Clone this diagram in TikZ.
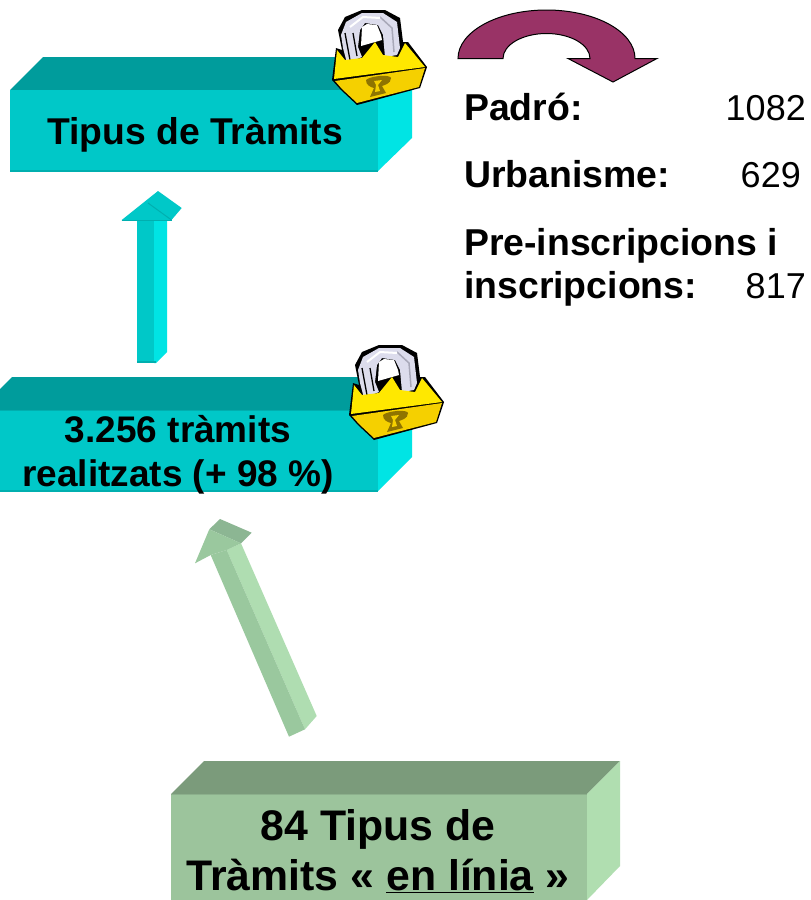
\documentclass[tikz,border=0pt]{standalone}
\usepackage{fontspec}
\setmainfont{Liberation Sans}
\definecolor{cfront}{HTML}{00C8C8}
\definecolor{ctop}{HTML}{009C9C}
\definecolor{cside}{HTML}{00E4E4}
\definecolor{cedge}{HTML}{00AFAF}
\definecolor{gfront}{HTML}{9CC49C}
\definecolor{gtop}{HTML}{7B9B7B}
\definecolor{gside}{HTML}{B0DEB0}
\definecolor{gedge}{HTML}{8CB08C}
\definecolor{afront}{HTML}{9AC89E}
\definecolor{aside}{HTML}{AFDDB1}
\definecolor{atop}{HTML}{8CB693}
\definecolor{maroon}{HTML}{993366}
\definecolor{lockY}{HTML}{FFE800}
\definecolor{lockD}{HTML}{F5D000}
\definecolor{lockK}{HTML}{8F7400}
\definecolor{lockS}{HTML}{DCDCEC}
\definecolor{lockG}{HTML}{A8A8B8}
\tikzset{
  boxlabel/.style={align=center,text=black,inner sep=0pt},
  infolabel/.style={font=\bfseries\fontsize{37.4}{43}\selectfont,anchor=base west,inner sep=0pt,align=left},
  infovalue/.style={font=\fontsize{36}{36}\selectfont,anchor=base east,inner sep=0pt},
  pics/padlock/.style={code={
    % black silhouette
    \fill[black] (12,80) -- (16,48) -- (22,50) -- (18,30) -- (25,17) -- (42,10) -- (65,10) -- (80,18) -- (83,42) -- (88,42) -- (107,67) -- (100,88) -- (37,105) -- (21,90) -- cycle;
    % shackle
    \fill[lockS] (21,35) -- (26,22) -- (42,13) -- (63,13) -- (77,22) -- (80,48) -- (77,55) -- (65,57) -- (63,35) -- (58,25) -- (45,23) -- (40,30) -- (38,47) -- (42,57) -- (27,63) -- (23,48) -- cycle;
    \draw[black,line width=1.3pt] (25,33) -- (30,60);
    \draw[black,line width=1.3pt] (33,33) -- (37,56);
    \draw[lockG,line width=1.5pt] (60,17) -- (72,28) -- (74,52);
    \draw[white,line width=2pt] (30,27) -- (43,17) -- (60,18);
    % opening
    \fill[white] (42,27) -- (47,24) -- (57,25) -- (61,35) -- (62,40) -- (41,46) -- cycle;
    % body, upper yellow face
    \fill[lockY] (17,50) -- (25,60) -- (42,58) -- (55,42) -- (63,55) -- (78,57) -- (85,43) -- (105,67) -- (14,79) -- cycle;
    % body, lower face
    \fill[lockD] (15,81) -- (105,68) -- (99,87) -- (37,103) -- (22,89) -- cycle;
    % keyhole
    \fill[lockK] (46,80) .. controls (50,76) and (70,74) .. (71,78) .. controls (71,84) and (64,85) .. (62,86) -- (66,93) -- (50,97) -- (54,88) .. controls (50,87) and (46,85) .. (46,80) -- cycle;
    \fill[lockD] (54,81) -- (62,80) -- (58,85) -- (60,91) -- (55,92) -- (56,85) -- cycle;
  }}
}
\begin{document}
\begin{tikzpicture}[x=1pt,y=-1pt]
\useasboundingbox (0,0) rectangle (811,900);
\clip (0,0) rectangle (811,900);
\fill[white] (0,0) rectangle (811,900);

% top box
\fill[ctop] (10,90) -- (43,57) -- (412,57) -- (378,90) -- cycle;
\fill[cside] (378,90) -- (412,57) -- (412,138) -- (378,171) -- cycle;
\fill[cfront] (10,90) rectangle (378,171);
\draw[cedge,line width=1.5pt] (10,171) -- (378,171);
\node[boxlabel,font=\bfseries\fontsize{37.3}{37}\selectfont] (tipus) at (195,135) {Tipus de Tràmits};

% middle box
\fill[ctop] (-21,410) -- (12,377) -- (412,377) -- (378,410) -- cycle;
\fill[cside] (378,410) -- (412,377) -- (412,457) -- (378,491) -- cycle;
\fill[cfront] (-21,410) rectangle (378,491);
\draw[cedge,line width=1.5pt] (-21,491) -- (378,491);
\draw[cedge,line width=1pt] (-21,410) -- (378,410);
\node[boxlabel,font=\bfseries\fontsize{37}{44}\selectfont] (tramits) at (178,455) {3.256 tràmits\\realitzats (+ 98 \%)};

% bottom box
\fill[gtop] (171,794) -- (204,761) -- (620,761) -- (587,794) -- cycle;
\fill[gside] (587,794) -- (620,761) -- (620,866) -- (587,900) -- cycle;
\fill[gfront] (171,794) rectangle (587,900);
\draw[gedge,line width=1pt] (171,794) -- (587,794);
\node[boxlabel,font=\bfseries\fontsize{42.8}{50}\selectfont] (linia) at (378,851) {84 Tipus de\\Tràmits « \underline{en línia} »};

% teal block arrow
\fill[cside] (154,219) -- (167,219) -- (167,352) -- (156,363) -- (154,363) -- cycle;
\fill[cfront] (137,219) rectangle (154,363);
\fill[cedge] (137,360.5) rectangle (156,363);
\fill[cfront] (121.7,220) -- (158,191) -- (181.7,208) -- (171.5,220) -- cycle;
\draw[cedge,line width=1pt] (121.7,220) -- (171.5,220);
\draw[cedge,line width=1pt] (148,203) -- (171.5,220);

% green block arrow
\fill[aside] (226.7,550) -- (241,543.3) -- (316.7,716) -- (305,729.3) -- cycle;
\fill[afront] (210.7,555) -- (226.7,550) -- (305,729.3) -- (289,736.7) -- cycle;
\fill[atop] (209.3,529.3) -- (220,519) -- (251.7,532.7) -- (241,543.3) -- cycle;
\fill[afront] (195,563.3) -- (209.3,529.3) -- (241,543.3) -- (226.7,550) -- (210.7,555) -- cycle;

% curved arrow
\draw[fill=maroon,draw=black,line width=1pt,line join=miter]
  (458,58.5) arc[start angle=180,end angle=360,x radius=88.5,y radius=48.5]
  -- (657,58.5) -- (613,82) -- (568,58.5) -- (590,58.5)
  arc[start angle=360,end angle=180,x radius=43.5,y radius=25] -- cycle;

% padlocks
\pic at (320,0) {padlock};
\pic at (337,335) {padlock};

% info text
\node[infolabel] (padro) at (464,120) {Padró:};
\node[infovalue] (v1) at (806,120) {1082};
\node[infolabel] (urb) at (464,187) {Urbanisme:};
\node[infovalue] (v2) at (801,187) {629};
\node[infolabel] (pre) at (464,298) {Pre-inscripcions i\\inscripcions:};
\node[infovalue] (v3) at (806,298) {817};
\end{tikzpicture}
\end{document}
